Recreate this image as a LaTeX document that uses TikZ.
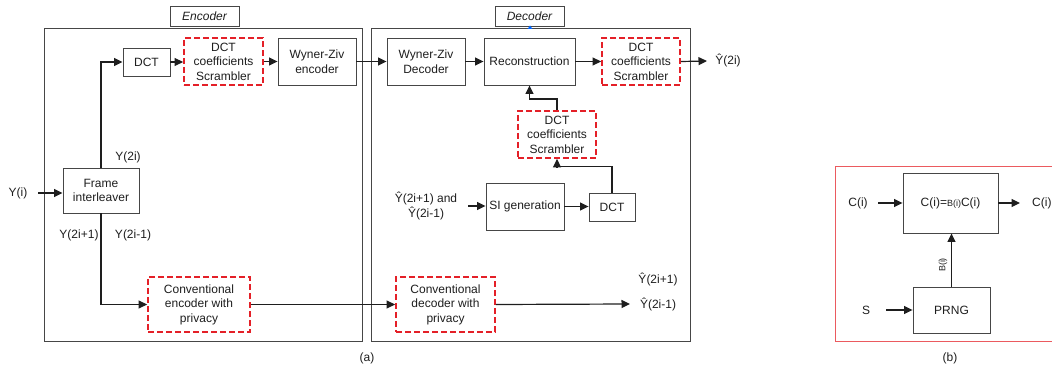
\documentclass[tikz,border=0pt]{standalone}
\usepackage{fontspec}
\setmainfont{Liberation Sans}
\usetikzlibrary{arrows.meta}
\definecolor{redd}{RGB}{228,32,40}
\definecolor{redl}{RGB}{235,90,95}
\definecolor{boxg}{RGB}{70,70,70}
\definecolor{txt}{RGB}{30,30,30}
\begin{document}
\begin{tikzpicture}[x=1pt,y=-1pt,
  font=\fontsize{12}{14.5}\selectfont, text=txt,
  blk/.style={draw=boxg, line width=0.9pt, align=center, inner sep=0pt},
  scr/.style={draw=redd, dash pattern=on 6pt off 3pt, line width=1.8pt, align=center, inner sep=0pt},
  arr/.style={-{Triangle[length=8.5pt,width=8pt]}, line width=1.2pt, draw=txt},
  lab/.style={inner sep=0pt, align=center},
  frame/.style={draw=boxg, line width=0.9pt}
]
\useasboundingbox (0,0) rectangle (1052,371);

% outer frames
\draw[frame] (44,28) rectangle (362,341);
\draw[frame] (371,28) rectangle (690,341);
\node[blk, minimum width=69, minimum height=20, font=\fontsize{12}{14}\selectfont\itshape] (enclab) at (204.5,16) {Encoder};
\node[blk, minimum width=69, minimum height=20, font=\fontsize{12}{14}\selectfont\itshape] (declab) at (529.5,16) {Decoder};
\fill[blue!60!cyan] (527.5,29) -- (532.5,29) -- (530,25.5) -- cycle;

% encoder
\node[blk, minimum width=47, minimum height=28] (dcta) at (146.5,62) {DCT};
\node[scr, minimum width=79, minimum height=47] (scra) at (223.5,61.5) {DCT\\coefficients\\Scrambler};
\node[blk, minimum width=78, minimum height=47] (wze) at (317,61.5) {Wyner-Ziv\\encoder};
\node[blk, minimum width=76, minimum height=45] (fi) at (101,190.5) {Frame\\interleaver};
\node[scr, minimum width=102, minimum height=55] (ce) at (199,304.5) {Conventional\\encoder with\\privacy};

\node[lab] (yi) at (18,193) {Y(i)};
\coordinate (yin) at (38,193);
\node[lab] (y2i) at (128,157) {Y(2i)};
\node[lab] (y2ip) at (79,235) {Y(2i+1)};
\node[lab] (y2im) at (133,235) {Y(2i-1)};

\draw[arr] (yin) -- (yin -| fi.west);
\draw[arr] (fi.north) |- (dcta.west);
\draw[arr] (fi.south) |- (ce.west);
\draw[arr] (dcta.east) -- (dcta.east -| scra.west);
\draw[arr] (scra.east) -- (wze.west);

% decoder
\node[blk, minimum width=78, minimum height=47] (wzd) at (426,61.5) {Wyner-Ziv\\Decoder};
\node[blk, minimum width=91, minimum height=47] (rec) at (529.5,61.5) {Reconstruction};
\node[scr, minimum width=78, minimum height=47] (scrb) at (641,61.5) {DCT\\coefficients\\Scrambler};
\node[scr, minimum width=78, minimum height=47] (scrc) at (557,134.5) {DCT\\coefficients\\Scrambler};
\node[blk, minimum width=78, minimum height=47] (sig) at (525,206.5) {SI generation};
\node[blk, minimum width=46, minimum height=28] (dctb) at (612,207) {DCT};
\node[scr, minimum width=99, minimum height=55] (cd) at (445.5,304.5) {Conventional\\decoder with\\privacy};

\node[lab] (yh2i) at (728,61) {Ŷ(2i)};
\node[lab] (sil) at (426,206) {Ŷ(2i+1) and\\Ŷ(2i-1)};
\coordinate (siin) at (468,206);
\node[lab] (yh2ip) at (658,279) {Ŷ(2i+1)};
\node[lab] (yh2im) at (658,304) {Ŷ(2i-1)};
\coordinate (cdout) at (630,304);
\coordinate (yout) at (707,61);

\draw[arr] (wze.east) -- (wzd.west);
\draw[arr] (wzd.east) -- (rec.west);
\draw[arr] (rec.east) -- (scrb.west);
\draw[arr] (scrb.east) -- (yout);
\draw[arr] (scrc.north) -- ++(0,-11) -| (rec.south);
\draw[arr] (dctb.north) -- ++(0,-26) -| (scrc.south);
\draw[arr] (siin) -- (siin -| sig.west);
\draw[arr] (sig.east) -- (sig.east -| dctb.west);
\draw[arr] (ce.east) -- (cd.west);
\draw[arr] (cd.east) -- (cdout);

\node[lab] (la) at (367,358) {(a)};

% panel b
\draw[draw=redl, line width=0.9pt] (835,166) rectangle (1062,341);
\node[blk, minimum width=95, minimum height=60] (mul) at (950.5,203) {C(i)={\fontsize{9}{10}\selectfont B(i)}C(i)};
\node[blk, minimum width=77, minimum height=46] (prng) at (951.5,310) {PRNG};
\node[lab] (cin) at (858,203) {C(i)};
\coordinate (cinp) at (878,203);
\node[lab, anchor=west] (cout) at (1032,203) {C(i)};
\coordinate (coutp) at (1020,203);
\node[lab] (sl) at (866,310) {S};
\coordinate (sinp) at (886,310);
\draw[arr] (cinp) -- (cinp -| mul.west);
\draw[arr] (mul.east) -- (coutp);
\draw[arr] (sinp) -- (sinp -| prng.west);
\draw[arr] (prng.north) -- (prng.north |- mul.south);
\node[lab, rotate=90, font=\fontsize{9}{10}\selectfont] (bl) at (943,265) {B(i)};
\node[lab] (lb) at (950,358) {(b)};
\end{tikzpicture}
\end{document}
